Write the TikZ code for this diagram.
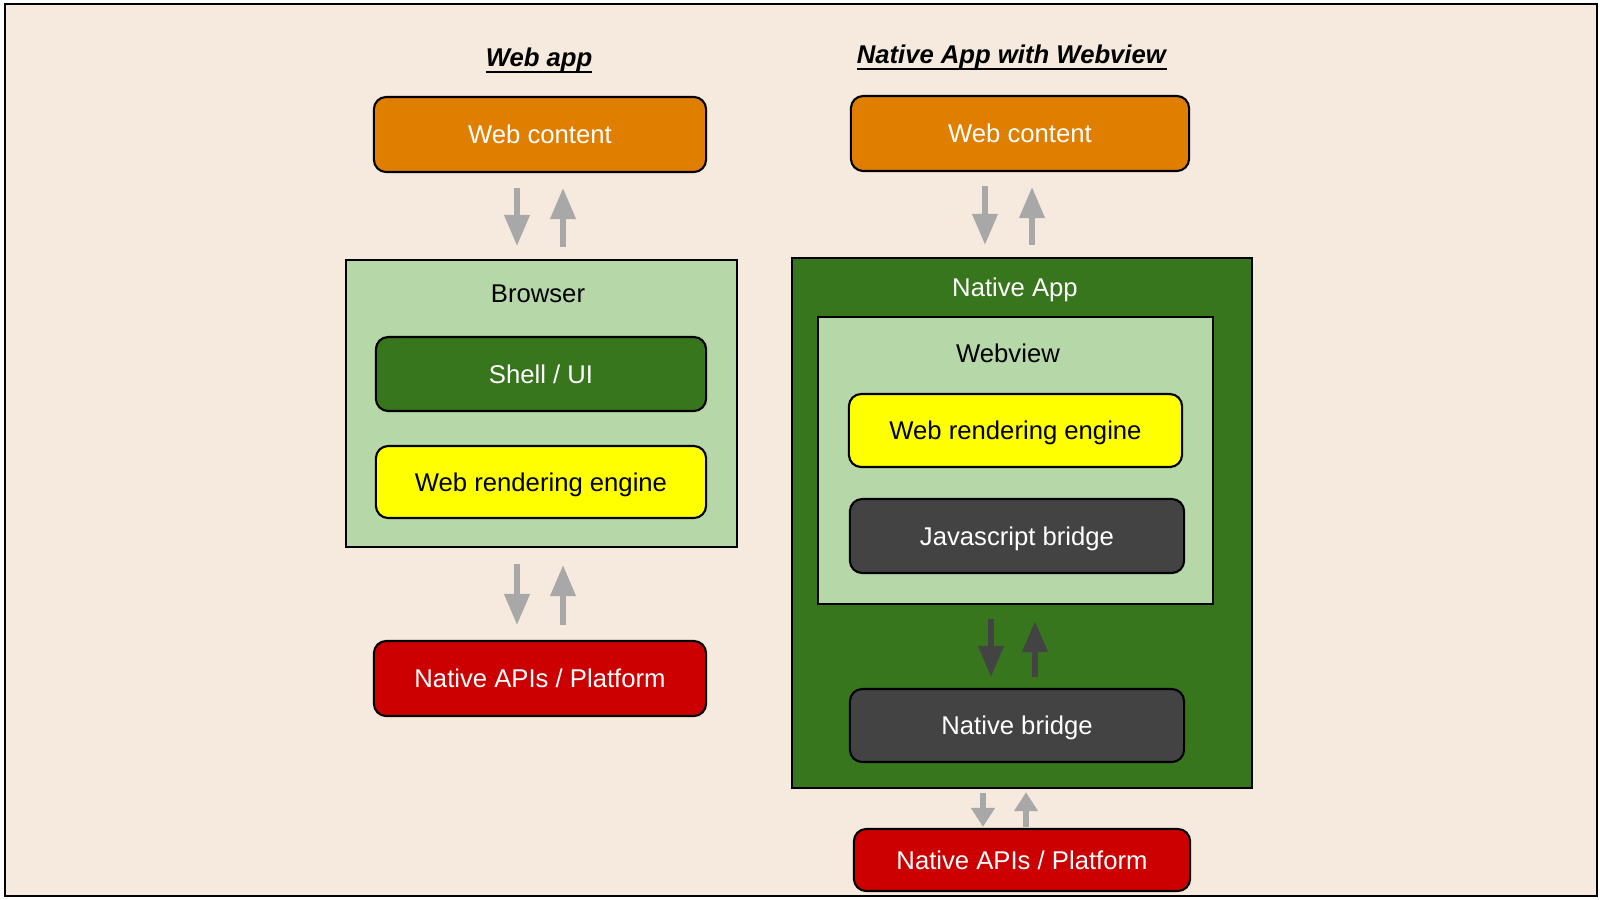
\documentclass[tikz,border=0pt]{standalone}
\usepackage{fontspec}
\setmainfont{Liberation Sans}
\usetikzlibrary{arrows.meta}

\definecolor{paper}{HTML}{F5EADD}
\definecolor{orangebox}{HTML}{E07E00}
\definecolor{dkgreen}{HTML}{38761D}
\definecolor{ltgreen}{HTML}{B6D7A8}
\definecolor{yellowbox}{HTML}{FFFF00}
\definecolor{redbox}{HTML}{CC0000}
\definecolor{dkgray}{HTML}{434343}
\definecolor{arrowgray}{HTML}{A8A8A8}

\newcommand{\heading}[1]{\setbox0\hbox{\textbf{\textit{#1}}}\rlap{\rule[-1.9pt]{\wd0}{0.55pt}}\box0}

\tikzset{
  box/.style={draw=black, line width=0.6pt, rounded corners=3.5pt, inner sep=0pt,
    text height=5.25pt, text depth=0pt, minimum width=3.32cm, minimum height=0.75cm},
  panel/.style={draw=black, line width=0.6pt, inner sep=0pt},
  caption/.style={inner sep=0pt, text height=5.25pt, text depth=0pt},
  flow/.style={line width=1.5pt, -{Triangle[width=7pt,length=8.8pt]}},
  smallflow/.style={line width=1.5pt, -{Triangle[width=6.5pt,length=5.4pt]}}
}

\begin{document}
\begin{tikzpicture}[x=0.01cm, y=-0.01cm, font=\fontsize{7.3}{9}\selectfont]
	\useasboundingbox (0,0) rectangle (1600,900);
	\fill[white] (0,0) rectangle (1600,900);
	\draw[fill=paper, line width=0.6pt] (5,4) rectangle (1597,896);

	\node[caption] (titleL) at (539,57) {\heading{Web app}};
	\node[box, fill=orangebox, text=white] (wcL) at (540,134.5) {Web content};
	\node[panel, fill=ltgreen, minimum width=3.91cm, minimum height=2.87cm] (brL) at (541.5,403.5) {};
	\node[caption] (brLtxt) at (538,293) {Browser};
	\node[box, fill=dkgreen, text=white, minimum width=3.30cm, minimum height=0.74cm] (shL) at (541,374) {Shell / UI};
	\node[box, fill=yellowbox, minimum width=3.30cm, minimum height=0.72cm] (weL) at (541,482) {Web rendering engine};
	\node[box, fill=redbox, text=white] (naL) at (540,678.5) {Native APIs / Platform};

	\draw[flow, arrowgray, shorten <=0.15cm, shorten >=0.13cm] ([xshift=-0.23cm]wcL.south) -- ([xshift=-0.23cm]wcL.south |- brL.north);
	\draw[flow, arrowgray, shorten <=0.12cm, shorten >=0.15cm] ([xshift=0.23cm]wcL.south |- brL.north) -- ([xshift=0.23cm]wcL.south);
	\draw[flow, arrowgray, shorten <=0.16cm, shorten >=0.15cm] ([xshift=-0.245cm]brL.south) -- ([xshift=-0.245cm]brL.south |- naL.north);
	\draw[flow, arrowgray, shorten <=0.15cm, shorten >=0.17cm] ([xshift=0.215cm]brL.south |- naL.north) -- ([xshift=0.215cm]brL.south);

	\node[caption] (titleR) at (1012,54) {\heading{Native App with Webview}};
	\node[box, fill=orangebox, text=white, minimum width=3.38cm] (wcR) at (1020,133.5) {Web content};
	\node[panel, fill=dkgreen, minimum width=4.60cm, minimum height=5.30cm] (nappR) at (1022,523) {};
	\node[caption, text=white] (nappRtxt) at (1015,287) {Native App};
	\node[panel, fill=ltgreen, minimum width=3.95cm, minimum height=2.87cm] (wvR) at (1015.5,460.5) {};
	\node[caption] (wvRtxt) at (1008,353) {Webview};
	\node[box, fill=yellowbox, minimum width=3.33cm, minimum height=0.73cm] (weR) at (1015.5,430.5) {Web rendering engine};
	\node[box, fill=dkgray, text=white, minimum width=3.34cm, minimum height=0.74cm] (jsR) at (1017,536) {Javascript bridge};
	\node[box, fill=dkgray, text=white, minimum width=3.34cm, minimum height=0.73cm] (nbR) at (1017,725.5) {Native bridge};
	\node[box, fill=redbox, text=white, minimum width=3.36cm, minimum height=0.62cm] (naR) at (1022,860) {Native APIs / Platform};

	\draw[flow, arrowgray, shorten <=0.14cm, shorten >=0.12cm] ([xshift=-0.35cm]wcR.south) -- ([xshift=-0.35cm]wcR.south |- nappR.north);
	\draw[flow, arrowgray, shorten <=0.12cm, shorten >=0.15cm] ([xshift=0.12cm]wcR.south |- nappR.north) -- ([xshift=0.12cm]wcR.south);
	\draw[flow, dkgray, shorten <=0.14cm, shorten >=0.11cm] ([xshift=-0.245cm]wvR.south) -- ([xshift=-0.245cm]wvR.south |- nbR.north);
	\draw[flow, dkgray, shorten <=0.11cm, shorten >=0.16cm] ([xshift=0.195cm]wvR.south |- nbR.north) -- ([xshift=0.195cm]wvR.south);
	\draw[smallflow, arrowgray, shorten <=0.04cm, shorten >=0.01cm] ([xshift=-0.39cm]nappR.south) -- ([xshift=-0.39cm]nappR.south |- naR.north);
	\draw[smallflow, arrowgray, shorten <=0.01cm, shorten >=0.03cm] ([xshift=0.04cm]nappR.south |- naR.north) -- ([xshift=0.04cm]nappR.south);
\end{tikzpicture}
\end{document}
